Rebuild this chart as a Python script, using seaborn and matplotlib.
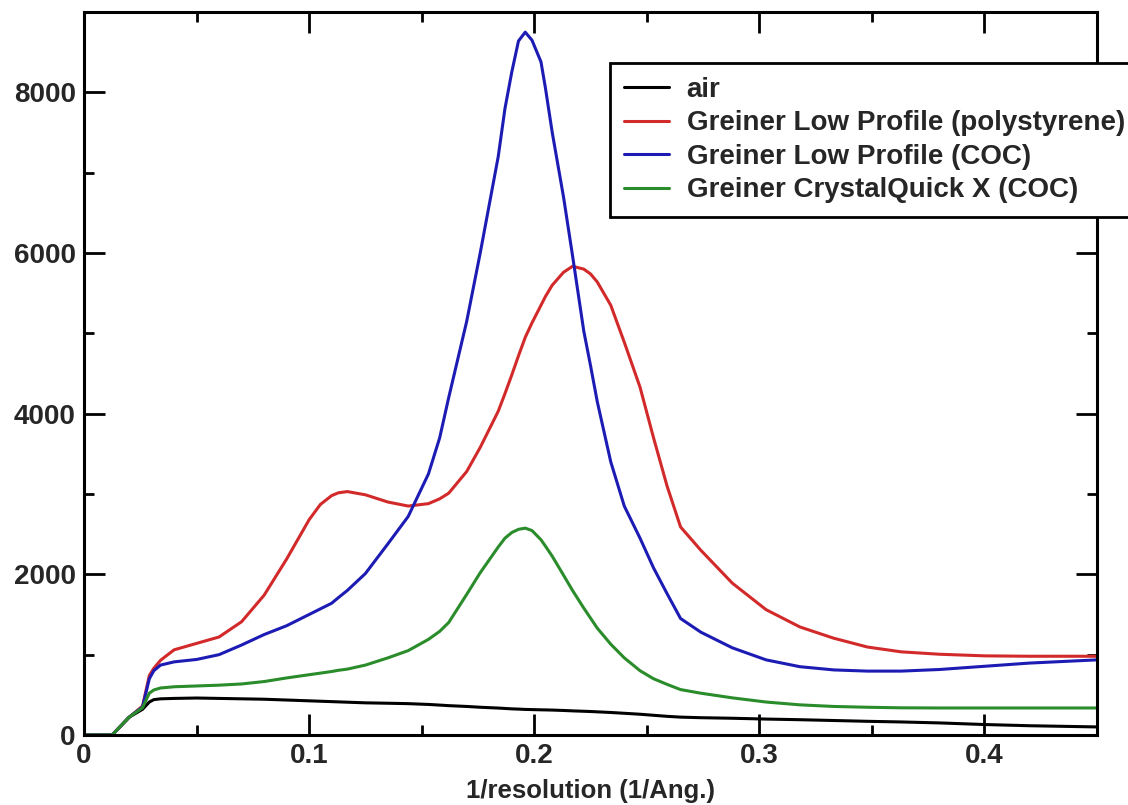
import numpy as np
import pandas as pd
import matplotlib
matplotlib.use("Agg")
import matplotlib.pyplot as plt
import seaborn as sns
from matplotlib.ticker import MultipleLocator

# values
x = [0, 0.0125, 0.02, 0.026, 0.029, 0.031, 0.034, 0.04, 0.05, 0.06, 0.07, 0.08,
     0.09, 0.1, 0.105, 0.11, 0.113, 0.117, 0.125, 0.135, 0.144, 0.153, 0.158,
     0.162, 0.17, 0.176, 0.184, 0.187, 0.19, 0.193, 0.196, 0.199, 0.203, 0.205,
     0.208, 0.213, 0.217, 0.222, 0.225, 0.228, 0.234, 0.24, 0.247, 0.253, 0.259,
     0.265, 0.274, 0.288, 0.303, 0.318, 0.333, 0.348, 0.363, 0.38, 0.4, 0.42,
     0.45]

air = [0, 0, 220, 320, 410, 440, 450, 455, 460, 455, 450, 445,
       435, 425, 420, 415, 412, 408, 400, 395, 390, 380, 372,
       365, 355, 345, 335, 330, 325, 322, 318, 316, 313, 312,
       310, 305, 300, 295, 292, 288, 280, 270, 258, 245, 232,
       222, 215, 208, 198, 190, 180, 170, 162, 150, 130, 115,
       100]

polystyrene = [0, 0, 220, 360, 740, 830, 930, 1060, 1140, 1220, 1410, 1740,
               2190, 2680, 2870, 2980, 3015, 3030, 2990, 2900, 2850, 2880, 2940,
               3010, 3280, 3580, 4030, 4250, 4480, 4720, 4950, 5130, 5350, 5460,
               5600, 5760, 5835, 5800, 5740, 5640, 5350, 4890, 4330, 3700, 3100,
               2590, 2300, 1890, 1560, 1345, 1205, 1095, 1035, 1005, 985, 980,
               980]

low_coc = [0, 0, 220, 350, 700, 800, 870, 910, 940, 1000, 1120, 1250,
           1360, 1500, 1570, 1640, 1710, 1800, 2010, 2380, 2720, 3250, 3700,
           4200, 5150, 6000, 7200, 7800, 8250, 8640, 8750, 8650, 8380, 8050,
           7500, 6700, 5970, 5030, 4600, 4150, 3400, 2850, 2450, 2080, 1760,
           1450, 1280, 1085, 935, 850, 810, 795, 795, 815, 855, 895,
           935]

crystalquick = [0, 0, 220, 340, 520, 560, 585, 600, 610, 620, 635, 665,
                710, 750, 770, 790, 805, 820, 870, 960, 1050, 1190, 1290,
                1400, 1750, 2020, 2340, 2450, 2520, 2560, 2575, 2545, 2430, 2350,
                2225, 1990, 1800, 1580, 1455, 1330, 1130, 960, 800, 700, 630,
                565, 520, 462, 410, 375, 355, 345, 338, 336, 336, 336,
                336]

labels = ["air", "Greiner Low Profile (polystyrene)",
          "Greiner Low Profile (COC)", "Greiner CrystalQuick X (COC)"]
colors = ["#000000", "#d22a2a", "#1c1cb4", "#2a8c2a"]

xticks = [0, 0.1, 0.2, 0.3, 0.4]
xticklabels = ["0", "0.1", "0.2", "0.3", "0.4"]
yticks = [0, 2000, 4000, 6000, 8000]
yticklabels = ["0", "2000", "4000", "6000", "8000"]

df = pd.DataFrame({"x": x * 4,
                   "y": air + polystyrene + low_coc + crystalquick,
                   "series": sum([[l] * len(x) for l in labels], [])})

sns.set_style("ticks")
plt.rcParams["font.family"] = ["Liberation Sans", "DejaVu Sans"]
plt.rcParams["font.weight"] = "bold"

fig = plt.figure(figsize=(11.28, 8.05), dpi=100)
ax = fig.add_axes([0.0745, 0.087, 0.898, 0.898])

sns.lineplot(data=df, x="x", y="y", hue="series", hue_order=labels,
             palette=colors, linewidth=2.2, ax=ax, sort=False)

ax.set_xlim(0, 0.45)
ax.set_ylim(0, 9000)
ax.set_xticks(xticks)
ax.set_xticklabels(xticklabels)
ax.set_yticks(yticks)
ax.set_yticklabels(yticklabels)
ax.xaxis.set_minor_locator(MultipleLocator(0.05))
ax.yaxis.set_minor_locator(MultipleLocator(1000))
ax.tick_params(which="both", direction="in", top=True, right=True,
               width=2, labelsize=20, color="black")
ax.tick_params(which="major", length=15, pad=6)
ax.tick_params(which="minor", length=7.5)
for lab in ax.get_xticklabels() + ax.get_yticklabels():
    lab.set_fontweight("bold")
for s in ax.spines.values():
    s.set_linewidth(2.2)
    s.set_color("black")

ax.set_xlabel("1/resolution (1/Ang.)", fontsize=18.5, fontweight="bold", labelpad=7)
ax.set_ylabel("")

handles, _ = ax.get_legend_handles_labels()
leg = ax.legend(handles, labels, loc="upper left",
                bbox_to_anchor=(0.541, 0.9217), bbox_transform=fig.transFigure,
                borderaxespad=0, fancybox=False, framealpha=1,
                prop={"size": 20, "weight": "bold"}, handlelength=1.6,
                labelspacing=0.27, borderpad=0.5, handletextpad=0.65)
leg.get_frame().set_edgecolor("black")
leg.get_frame().set_linewidth(2)

fig.savefig("out.png", dpi=100)
